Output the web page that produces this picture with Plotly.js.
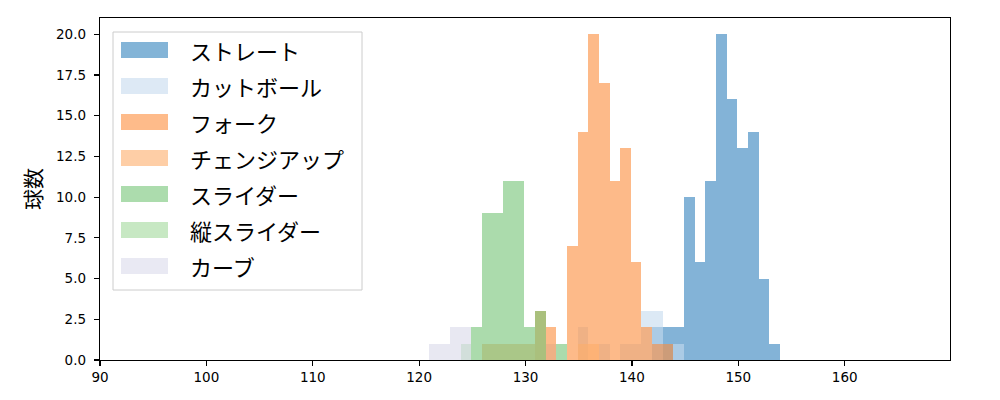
<!DOCTYPE html>
<html>
<head>
<meta charset="utf-8">
<script src="https://cdn.plot.ly/plotly-3.0.1.min.js"></script>
<style>
  body { margin: 0; background: #fff; }
  #plotly { width: 1000px; height: 400px; }
</style>
</head>
<body>
<div id="plotly"></div>
<script>
// Pitch names, in the order they are drawn and listed
var pitchNames = ['ストレート', 'カットボール', 'フォーク', 'チェンジアップ', 'スライダー', '縦スライダー', 'カーブ'];

// Left bin edges (km/h) and pitch counts per bin, bins are 1 km/h wide
var straightBins = [141.9, 142.9, 143.9, 144.9, 145.9, 146.9, 147.9, 148.9, 149.9, 150.9, 151.9, 152.9];
var straightCounts = [2, 2, 2, 10, 6, 11, 20, 16, 13, 14, 5, 1];

var cutBins = [131.9, 134.9, 136.9, 138.9, 139.9, 140.9, 141.9, 143.9];
var cutCounts = [1, 2, 1, 1, 1, 3, 3, 1];

var forkBins = [130.9, 131.9, 133.9, 134.9, 135.9, 136.9, 137.9, 138.9, 139.9, 140.9, 141.9, 142.9];
var forkCounts = [3, 2, 7, 14, 20, 17, 11, 13, 6, 2, 1, 1];

var changeBins = [125.9, 126.9, 127.9, 128.9, 129.9, 134.9, 135.9];
var changeCounts = [1, 1, 1, 1, 1, 1, 1];

var sliderBins = [124.9, 125.9, 126.9, 127.9, 128.9, 129.9, 130.9, 132.9];
var sliderCounts = [2, 9, 9, 11, 11, 2, 3, 1];

var vSliderBins = [123.9];
var vSliderCounts = [1];

var curveBins = [120.9, 121.9, 122.9, 123.9];
var curveCounts = [1, 1, 2, 2];

var binWidth = 1;

var xTicks = [90, 100, 110, 120, 130, 140, 150, 160];

// tab20c shades, drawn at 60% opacity like the original
var colors = ['#3182bd', '#c6dbef', '#fd8d3c', '#fdae6b', '#74c476', '#a1d99b', '#dadaeb'];
var alpha = 0.6;

var allBins = [straightBins, cutBins, forkBins, changeBins, sliderBins, vSliderBins, curveBins];
var allCounts = [straightCounts, cutCounts, forkCounts, changeCounts, sliderCounts, vSliderCounts, curveCounts];

var jpFont = '"Noto Sans CJK JP", "Noto Sans", sans-serif';

var traces = [];
for (var i = 0; i < pitchNames.length; i++) {
  traces.push({
    type: 'bar',
    name: pitchNames[i],
    x: allBins[i],
    y: allCounts[i],
    width: binWidth,
    offset: 0,
    opacity: alpha,
    marker: { color: colors[i], line: { width: 0 } },
    showlegend: false
  });
}

// Hand-made legend so the swatches can be wide like matplotlib's
function hexToRgba(hex, a) {
  var r = parseInt(hex.slice(1, 3), 16);
  var g = parseInt(hex.slice(3, 5), 16);
  var b = parseInt(hex.slice(5, 7), 16);
  return 'rgba(' + r + ',' + g + ',' + b + ',' + a + ')';
}

var plotH = 342, plotW = 850;
var shapes = [{
  type: 'rect', xref: 'paper', yref: 'paper', layer: 'above',
  x0: 13 / plotW, x1: 262 / plotW,
  y0: (342 - 272) / plotH, y1: (342 - 14) / plotH,
  line: { color: '#cccccc', width: 1 },
  fillcolor: 'rgba(255,255,255,0.8)'
}];
var annotations = [];
for (var k = 0; k < pitchNames.length; k++) {
  var rowPx = 32 + 36 * k;        // row centre, px below the top of the plot area
  var yc = (plotH - rowPx) / plotH;
  shapes.push({
    type: 'rect', xref: 'paper', yref: 'paper', layer: 'above',
    x0: 21 / plotW, x1: 68 / plotW,
    y0: yc - 8 / plotH, y1: yc + 8 / plotH,
    line: { width: 0 },
    fillcolor: hexToRgba(colors[k], alpha)
  });
  annotations.push({
    xref: 'paper', yref: 'paper',
    x: 88 / plotW, y: yc,
    xanchor: 'left', yanchor: 'middle',
    text: pitchNames[k],
    showarrow: false,
    font: { family: jpFont, size: 22, color: '#000' }
  });
}

var tickFont = { family: 'DejaVu Sans', size: 13.5, color: '#000' };

var layout = {
  width: 1000,
  height: 400,
  margin: { l: 100, r: 50, t: 18, b: 40 },
  paper_bgcolor: '#fff',
  plot_bgcolor: '#fff',
  barmode: 'overlay',
  bargap: 0,
  showlegend: false,
  font: { family: jpFont, size: 14, color: '#000' },
  xaxis: {
    range: [90, 169.9],
    tickvals: xTicks,
    tickfont: tickFont,
    ticks: 'outside', ticklen: 5, tickwidth: 1.2, tickcolor: '#000',
    showline: true, mirror: true, linecolor: '#000', linewidth: 1.2,
    showgrid: false, zeroline: false
  },
  yaxis: {
    range: [0, 21],
    tick0: 0, dtick: 2.5, tickformat: '.1f',
    tickfont: tickFont,
    ticks: 'outside', ticklen: 5, tickwidth: 1.2, tickcolor: '#000',
    ticklabelstandoff: 5,
    showline: true, mirror: true, linecolor: '#000', linewidth: 1.2,
    showgrid: false, zeroline: false,
    title: { text: '球数', font: { family: jpFont, size: 21 }, standoff: 8 }
  },
  shapes: shapes,
  annotations: annotations
};

Plotly.newPlot('plotly', traces, layout, { displayModeBar: false, staticPlot: true });
</script>
</body>
</html>
